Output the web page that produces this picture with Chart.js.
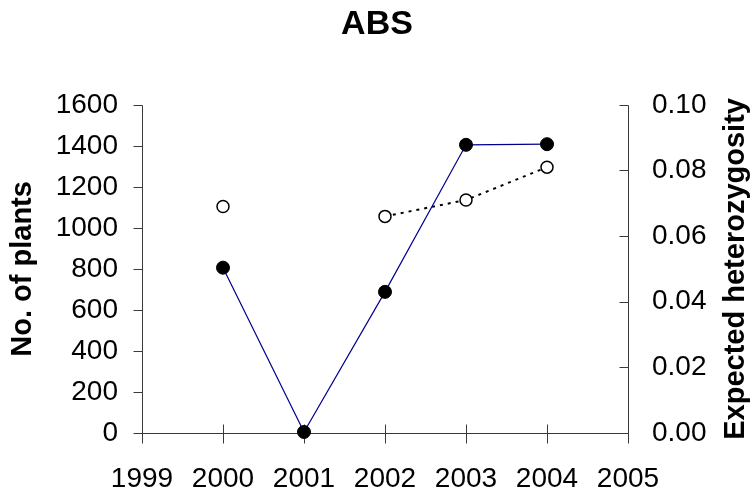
<!DOCTYPE html>
<html>
<head>
<meta charset="utf-8">
<script src="https://cdn.jsdelivr.net/npm/chart.js@4/dist/chart.umd.min.js"></script>
<style>
  html, body { margin: 0; padding: 0; background: #fff; }
  #wrap { width: 754px; height: 495px; }
</style>
</head>
<body>
<div id="wrap"><canvas id="c" width="754" height="495"></canvas></div>
<script>
const chartTitle = 'ABS';
const leftTitle = 'No. of plants';
const rightTitle = 'Expected heterozygosity';
const years = [2000, 2001, 2002, 2003, 2004];
const plants = [806, 5, 688, 1405, 1408];
const heterozygosity = [0.069, null, 0.066, 0.071, 0.081];
const xTicks = [1999, 2000, 2001, 2002, 2003, 2004, 2005];
const leftTicks = [0, 200, 400, 600, 800, 1000, 1200, 1400, 1600];
const rightTicks = [0, 0.02, 0.04, 0.06, 0.08, 0.10];

const FONT = '"Liberation Sans", Arial, sans-serif';
const AXIS = '#3a3a3a';

const tickPlugin = {
  id: 'customTicks',
  beforeDatasetsDraw(chart) {
    const ctx = chart.ctx;
    const x = chart.scales.x, y = chart.scales.y, y2 = chart.scales.y2;
    ctx.save();
    ctx.strokeStyle = AXIS;
    ctx.lineWidth = 1;
    ctx.beginPath();
    const xb = Math.round(y.getPixelForValue(0)) + 0.5;
    xTicks.forEach(v => {
      const px = Math.round(x.getPixelForValue(v)) + 0.5;
      ctx.moveTo(px, xb - 9); ctx.lineTo(px, xb + 10);
    });
    const lx = Math.round(x.getPixelForValue(1999)) + 0.5;
    leftTicks.forEach(v => {
      const py = Math.round(y.getPixelForValue(v)) + 0.5;
      ctx.moveTo(lx - 9, py); ctx.lineTo(lx, py);
    });
    const rx = Math.round(x.getPixelForValue(2005)) + 0.5;
    rightTicks.forEach(v => {
      const py = Math.round(y2.getPixelForValue(v)) + 0.5;
      ctx.moveTo(rx - 9, py); ctx.lineTo(rx, py);
    });
    ctx.moveTo(lx, Math.round(y.getPixelForValue(1600)) + 0.5); ctx.lineTo(lx, xb);
    ctx.moveTo(rx, Math.round(y2.getPixelForValue(0.10)) + 0.5); ctx.lineTo(rx, xb);
    ctx.moveTo(lx, xb); ctx.lineTo(rx, xb);
    ctx.stroke();
    ctx.restore();
  },
  afterDraw(chart) {
    // right axis title, reading bottom-to-top like the left one
    const ctx = chart.ctx;
    const y2 = chart.scales.y2;
    ctx.save();
    ctx.translate(736, (y2.top + y2.bottom) / 2);
    ctx.rotate(-Math.PI / 2);
    ctx.fillStyle = '#000';
    ctx.font = 'bold 29px ' + FONT;
    ctx.textAlign = 'center';
    ctx.textBaseline = 'middle';
    ctx.fillText(rightTitle, 0, 0);
    ctx.restore();
  }
};

new Chart(document.getElementById('c'), {
  type: 'line',
  data: {
    datasets: [
      {
        label: leftTitle,
        data: years.map((yr, i) => ({ x: yr, y: plants[i] })),
        yAxisID: 'y',
        borderColor: '#00008c',
        borderWidth: 1.2,
        pointRadius: 6.5,
        pointHoverRadius: 6.5,
        pointBackgroundColor: '#000',
        pointBorderColor: '#000',
        pointBorderWidth: 1,
        tension: 0,
        clip: false
      },
      {
        label: rightTitle,
        data: years.map((yr, i) => ({ x: yr, y: heterozygosity[i] })),
        yAxisID: 'y2',
        borderColor: '#000',
        borderWidth: 2,
        borderDash: [3, 5],
        spanGaps: false,
        pointRadius: 6,
        pointHoverRadius: 6,
        pointBackgroundColor: '#fff',
        pointBorderColor: '#000',
        pointBorderWidth: 1.5,
        tension: 0,
        clip: false
      }
    ]
  },
  options: {
    responsive: false,
    animation: false,
    events: [],
    layout: { padding: 0 },
    plugins: {
      legend: { display: false },
      tooltip: { enabled: false },
      title: {
        display: true,
        text: chartTitle,
        color: '#000',
        font: { family: FONT, size: 34, weight: 'bold', lineHeight: 1.2 },
        padding: { top: 4, bottom: 60 }
      }
    },
    scales: {
      x: {
        type: 'linear',
        min: 1999, max: 2005,
        afterBuildTicks: s => { s.ticks = xTicks.map(v => ({ value: v })); },
        afterFit: s => { s.height = 62; },
        grid: { display: false, drawTicks: false },
        border: { display: false },
        ticks: {
          color: '#000',
          font: { family: FONT, size: 28 },
          padding: 29,
          maxRotation: 0,
          callback: v => String(v)
        }
      },
      y: {
        position: 'left',
        min: 0, max: 1600,
        afterBuildTicks: s => { s.ticks = leftTicks.map(v => ({ value: v })); },
        afterFit: s => { s.width = 142; },
        grid: { display: false, drawTicks: false },
        border: { display: false },
        ticks: {
          color: '#000',
          font: { family: FONT, size: 28 },
          padding: 24,
          callback: v => String(v)
        },
        title: {
          display: true,
          text: leftTitle,
          color: '#000',
          font: { family: FONT, size: 29, weight: 'bold', lineHeight: 1.2 },
          padding: { top: 6, bottom: 0 }
        }
      },
      y2: {
        position: 'right',
        min: 0, max: 0.10,
        afterBuildTicks: s => { s.ticks = rightTicks.map(v => ({ value: v })); },
        afterFit: s => { s.width = 126; },
        grid: { display: false, drawTicks: false },
        border: { display: false },
        ticks: {
          color: '#000',
          font: { family: FONT, size: 28 },
          padding: 24,
          callback: v => v.toFixed(2)
        }
      }
    }
  },
  plugins: [tickPlugin]
});
</script>
</body>
</html>
